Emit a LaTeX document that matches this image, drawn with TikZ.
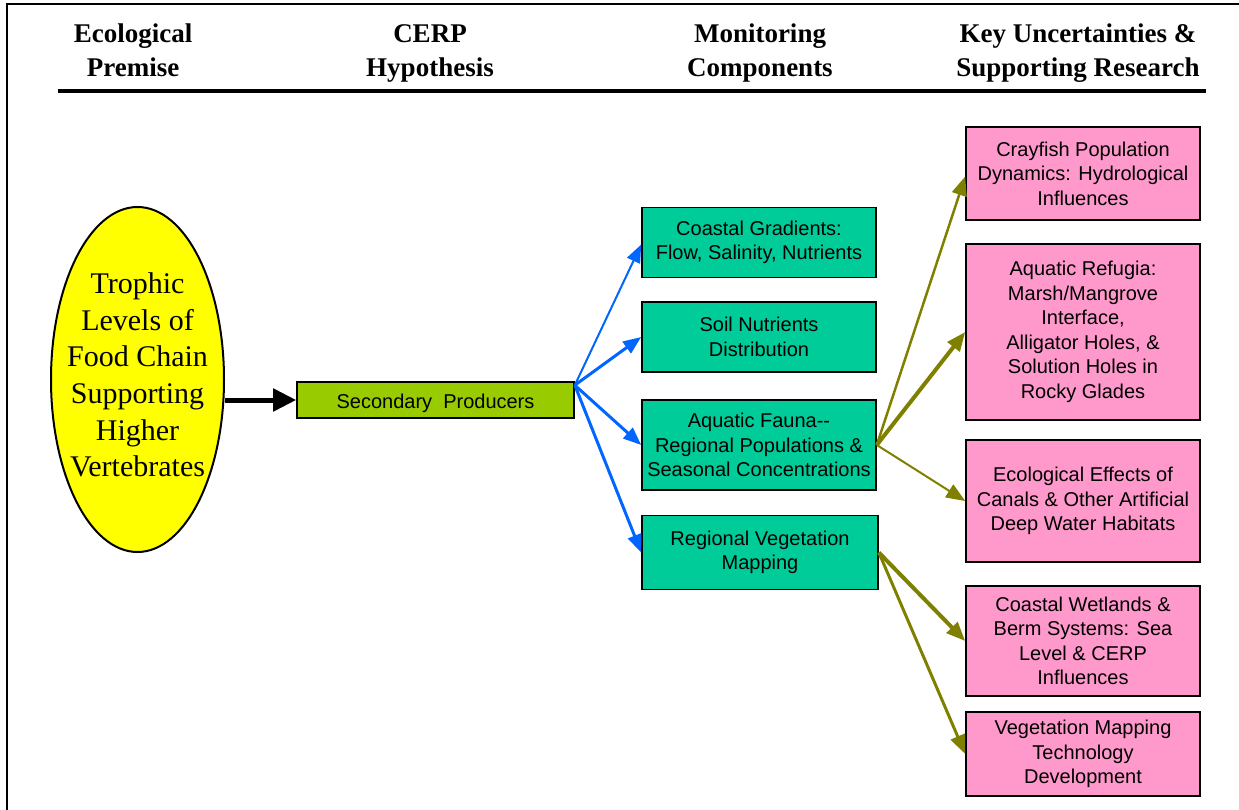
\documentclass[tikz,border=0pt]{standalone}
\usepackage{fontspec}
\setmainfont{Liberation Serif}
\setsansfont{Liberation Sans}
\usetikzlibrary{arrows.meta,shapes.geometric,calc}
\definecolor{cteal}{HTML}{00CC99}
\definecolor{cpink}{HTML}{FF99CC}
\definecolor{clime}{HTML}{99CC00}
\definecolor{cyell}{HTML}{FFFF00}
\definecolor{cblue}{HTML}{0066FF}
\definecolor{colive}{HTML}{808000}
\begin{document}
\begin{tikzpicture}[x=1pt,y=-1pt,
  box/.style={draw=black,line width=1.6pt,font=\sffamily\fontsize{20}{24.5}\selectfont,
    align=center,inner sep=0pt,execute at begin node={\rule{0pt}{21pt}}},
  mon/.style={box,fill=cteal,minimum width=234pt},
  key/.style={box,fill=cpink,minimum width=234pt},
  head/.style={font=\bfseries\fontsize{27}{34}\selectfont,align=center,inner sep=0pt},
  bluearr/.style={draw=cblue,line width=#1,-{Triangle[length=18pt,width=14pt]}},
  olivearr/.style={draw=colive,line width=#1,-{Triangle[length=19pt,width=15pt]}}]
\useasboundingbox (0,0) rectangle (1239,810);

% frame and header rule
\draw[line width=2pt] (7,810) -- (7,4) -- (1239,4);
\draw[line width=4pt] (58,91) -- (1206,91);

% column headings
\node[head] (h1) at (133,50) {Ecological\\Premise};
\node[head] (h2) at (430,53) {CERP\\Hypothesis};
\node[head] (h3) at (760,53) {Monitoring\\Components};
\node[head] (h4) at (1078,53) {Key Uncertainties \&\\Supporting Research};

% ecological premise
\node[ellipse,draw=black,line width=2pt,fill=cyell,minimum width=173pt,minimum height=345pt,inner sep=0pt] (el) at (137.5,379.5) {};
\node[font=\fontsize{30}{36.6}\selectfont,align=center,inner sep=0pt] (eltext) at (137.5,375) {Trophic\\Levels of\\Food Chain\\Supporting\\Higher\\Vertebrates};

% hypothesis
\node[box,fill=clime,minimum width=277pt,minimum height=36pt] (sp) at (435.5,400) {Secondary\ \ Producers};

% monitoring components
\node[mon,minimum height=70pt] (c1) at (759,242.5) {Coastal Gradients:\\Flow, Salinity, Nutrients};
\node[mon,minimum height=70pt] (c2) at (759,337) {Soil Nutrients\\Distribution};
\node[mon,minimum height=90pt] (c3) at (759,445) {Aquatic Fauna-{}-\\Regional Populations \&\\Seasonal Concentrations};
\node[mon,minimum width=236pt,minimum height=74pt] (c4) at (760,552.5) {Regional Vegetation\\Mapping};

% key uncertainties
\node[key,minimum height=93pt] (k1) at (1083,173.5) {Crayfish Population\\Dynamics: Hydrological\\Influences};
\node[key,minimum height=176pt] (k2) at (1083,332) {Aquatic Refugia:\\Marsh/Mangrove\\Interface,\\Alligator Holes, \&\\Solution Holes in\\Rocky Glades};
\node[key,minimum height=122pt] (k3) at (1083,501) {Ecological Effects of\\Canals \& Other Artificial\\Deep Water Habitats};
\node[key,minimum height=110pt] (k4) at (1083,641) {Coastal Wetlands \&\\Berm Systems: Sea\\Level \& CERP\\Influences};
\node[key,minimum height=84pt] (k5) at (1083,754) {Vegetation Mapping\\Technology\\Development};

% connectors
\draw[line width=5pt,-{Triangle[length=23pt,width=22pt]}] (sp.west -| el.east) -- (sp.west);

\coordinate (spout) at ([yshift=-4pt]sp.north east);
\draw[bluearr=2pt] (spout) -- ([yshift=-2pt]c1.west);
\draw[bluearr=3pt] (spout) -- (c2.west);
\draw[bluearr=3pt] (spout) -- (c3.west);
\draw[bluearr=3pt] (spout) -- (c4.west);

\draw[olivearr=2.5pt] (c3.east) -- ([yshift=-3pt]k1.west);
\draw[olivearr=4pt] (c3.east) -- (k2.west);
\draw[olivearr=2pt] (c3.east) -- (k3.west);
\draw[olivearr=4pt] (c4.east) -- (k4.west);
\draw[olivearr=3pt] (c4.east) -- (k5.west);
\end{tikzpicture}
\end{document}
